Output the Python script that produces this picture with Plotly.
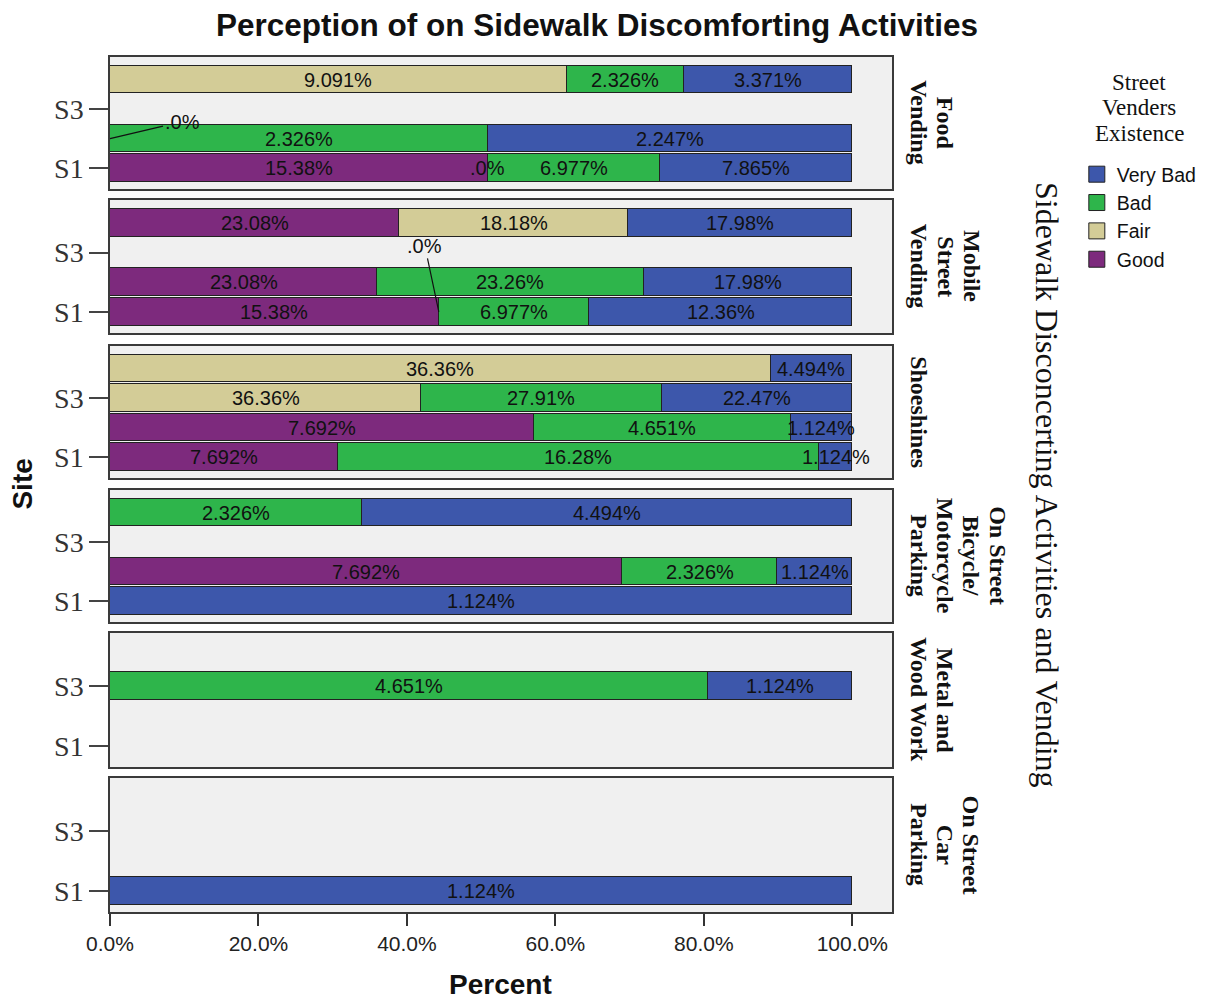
import plotly.graph_objects as go

# ---------------- data ----------------
activities = ["Food Vending", "Mobile Street Vending", "Shoeshines",
              "On Street Bicycle/Motorcycle Parking", "Metal and Wood Work",
              "On Street Car Parking"]
facet_lines = [["Food", "Vending"],
               ["Mobile", "Street", "Vending"],
               ["Shoeshines"],
               ["On Street", "Bicycle/", "Motorcycle", "Parking"],
               ["Metal and", "Wood Work"],
               ["On Street", "Car", "Parking"]]
legend_title_lines = ["Street", "Venders", "Existence"]
sites = ["S1", "S2", "S3", "S4"]
site_pos = [1, 2, 3, 4]
shown_ticks = ["S1", "S3"]
ratings = ["Good", "Fair", "Bad", "Very Bad"]
x_ticks = [0, 20, 40, 60, 80, 100]
x_ticktext = ["0.0%", "20.0%", "40.0%", "60.0%", "80.0%", "100.0%"]

# share of each bar (percent of bar length), rows = activities, cols = S1..S4
good_pct = [[50.9, 0.0, None, None],
            [44.3, 36.0, None, 39.0],
            [30.7, 57.1, None, None],
            [None, 69.0, None, None],
            [None, None, None, None],
            [None, None, None, None]]
fair_pct = [[0.0, None, None, 61.5],
            [0.0, None, None, 30.75],
            [None, None, 41.9, 89.0],
            [None, None, None, None],
            [None, None, None, None],
            [None, None, None, None]]
bad_pct = [[23.2, 50.9, None, 15.8],
           [20.2, 35.9, None, None],
           [64.8, 34.6, 32.4, None],
           [None, 20.9, None, 34.0],
           [None, None, 80.6, None],
           [None, None, None, None]]
vbad_pct = [[25.9, 49.1, None, 22.7],
            [35.5, 28.1, None, 30.25],
            [4.5, 8.3, 25.7, 11.0],
            [100.0, 10.1, None, 66.0],
            [None, None, 19.4, None],
            [100.0, None, None, None]]

# segment labels shown on the chart
good_lbl = [["15.38%", ".0%", None, None],
            ["15.38%", "23.08%", None, "23.08%"],
            ["7.692%", "7.692%", None, None],
            [None, "7.692%", None, None],
            [None, None, None, None],
            [None, None, None, None]]
fair_lbl = [[".0%", None, None, "9.091%"],
            [".0%", None, None, "18.18%"],
            [None, None, "36.36%", "36.36%"],
            [None, None, None, None],
            [None, None, None, None],
            [None, None, None, None]]
bad_lbl = [["6.977%", "2.326%", None, "2.326%"],
           ["6.977%", "23.26%", None, None],
           ["16.28%", "4.651%", "27.91%", None],
           [None, "2.326%", None, "2.326%"],
           [None, None, "4.651%", None],
           [None, None, None, None]]
vbad_lbl = [["7.865%", "2.247%", None, "3.371%"],
            ["12.36%", "17.98%", None, "17.98%"],
            ["1.124%", "1.124%", "22.47%", "4.494%"],
            ["1.124%", "1.124%", None, "4.494%"],
            [None, None, "1.124%", None],
            ["1.124%", None, None, None]]

pct = {"Good": good_pct, "Fair": fair_pct, "Bad": bad_pct, "Very Bad": vbad_pct}
lbl = {"Good": good_lbl, "Fair": fair_lbl, "Bad": bad_lbl, "Very Bad": vbad_lbl}

# ---------------- style ----------------
colors = {"Very Bad": "#3D57AB", "Bad": "#2EB54B", "Fair": "#D3CC97", "Good": "#7D2A7D"}
SANS = "Liberation Sans, Arial, sans-serif"
SERIF = "Liberation Serif, Times New Roman, serif"
# leader-line label offsets (pixels) for zero-width segments: (activity, site index, rating)
leaders = {(0, 1, "Good"): (72, -17), (1, 0, "Fair"): (-14, -66)}

OFF = 8  # page body margin
W, H = 1214, 1000
L, R, T, B = 110, 897, 57, 912
panel_px = [(57, 189), (200, 333), (346, 478), (490, 622), (633, 767), (778, 912)]


def px(xp):
    return (xp - L) / (R - L)


def py(yp):
    return (B - yp) / (B - T)


fig = go.Figure()
annotations = []
LBL_FONT = dict(family=SANS, size=20, color="#111")

for k in range(6):
    xa = "x" if k == 0 else f"x{k+1}"
    ya = "y" if k == 0 else f"y{k+1}"
    cum = [0.0] * 4
    for r in ratings:
        xs, ys = [], []
        for j in range(4):
            v = pct[r][k][j]
            if v is None:
                continue
            label = lbl[r][k][j]
            mid = cum[j] + v / 2
            if v > 0:
                xs.append(v)
                ys.append(site_pos[j])
            if label:
                if (k, j, r) in leaders:
                    ax, ay = leaders[(k, j, r)]
                    annotations.append(dict(x=mid, y=site_pos[j], xref=xa, yref=ya, text=label,
                                            showarrow=True, arrowhead=0, arrowwidth=1.2,
                                            arrowcolor="#111", ax=ax, ay=ay, standoff=0,
                                            font=LBL_FONT))
                else:
                    annotations.append(dict(x=mid, y=site_pos[j], xref=xa, yref=ya, text=label,
                                            showarrow=False, font=LBL_FONT))
            cum[j] += v
        if xs:
            fig.add_trace(go.Bar(x=xs, y=ys, orientation="h", xaxis=xa, yaxis=ya,
                                 marker=dict(color=colors[r], line=dict(color="#222", width=1.3)),
                                 width=0.93, showlegend=False, name=r, hoverinfo="skip"))

# legend entries
for r in ["Very Bad", "Bad", "Fair", "Good"]:
    fig.add_trace(go.Scatter(x=[None], y=[None], mode="markers", name=r,
                             marker=dict(symbol="square", size=17, color=colors[r],
                                         line=dict(color="#222", width=1))))

layout = dict(
    width=W - OFF, height=H - OFF,
    margin=dict(l=L - OFF, r=W - R, t=T - OFF, b=H - B),
    paper_bgcolor="white", plot_bgcolor="#F0F0F0",
    barmode="stack", bargap=0,
    showlegend=True,
    legend=dict(x=px(1083), y=py(155), xanchor="left", yanchor="top", traceorder="normal",
                bgcolor="rgba(0,0,0,0)", itemwidth=30, tracegroupgap=0,
                font=dict(family=SANS, size=19.5, color="#111")),
)

for k in range(6):
    top, bot = panel_px[k]
    xkey = "xaxis" if k == 0 else f"xaxis{k+1}"
    ykey = "yaxis" if k == 0 else f"yaxis{k+1}"
    ya = "y" if k == 0 else f"y{k+1}"
    xa = "x" if k == 0 else f"x{k+1}"
    last = (k == 5)
    layout[xkey] = dict(domain=[0, 1], anchor=ya, range=[0, 105.35], showgrid=False, zeroline=False,
                        showline=True, mirror=True, linecolor="#3a3a3a", linewidth=1.5,
                        tickvals=x_ticks, ticktext=x_ticktext,
                        ticks="outside" if last else "", ticklen=12, tickwidth=1.5, tickcolor="#333",
                        showticklabels=last,
                        tickfont=dict(family=SANS, size=21, color="#222"))
    if k > 0:
        layout[xkey]["matches"] = "x"
    layout[ykey] = dict(domain=[py(bot), py(top)], anchor=xa, range=[0.29, 4.77],
                        showgrid=False, zeroline=False,
                        showline=True, mirror=True, linecolor="#3a3a3a", linewidth=1.5,
                        tickvals=[site_pos[sites.index(s)] for s in shown_ticks],
                        ticktext=shown_ticks,
                        ticks="outside", ticklen=19, tickwidth=2, tickcolor="#444",
                        tickfont=dict(family=SERIF, size=28, color="#333"))
    # facet strip labels (one annotation per line, rotated)
    lines = facet_lines[k]
    n = len(lines)
    yc = (top + bot) / 2
    for i, line in enumerate(lines):
        xc = 924 + (n - 1 - i) * 26.5
        annotations.append(dict(x=px(xc), y=py(yc), xref="paper", yref="paper",
                                text=f"<b>{line}</b>",
                                textangle=90, showarrow=False, xanchor="center", yanchor="middle",
                                font=dict(family=SERIF, size=24, color="#111")))

# legend title (one line per annotation for tight spacing)
for i, line in enumerate(legend_title_lines):
    annotations.append(dict(x=px(1146), y=py(82 + i * 25.5), xref="paper", yref="paper",
                            text=line, showarrow=False, xanchor="center", yanchor="middle",
                            font=dict(family=SERIF, size=23, color="#111")))

# titles
annotations.append(dict(x=px(600), y=py(25), xref="paper", yref="paper",
                        text="<b>Perception of on Sidewalk Discomforting Activities</b>",
                        showarrow=False, xanchor="center", yanchor="middle",
                        font=dict(family=SANS, size=31.5, color="#111")))
annotations.append(dict(x=px(503), y=py(984), xref="paper", yref="paper", text="<b>Percent</b>",
                        showarrow=False, xanchor="center", yanchor="middle",
                        font=dict(family=SANS, size=28, color="#111")))
annotations.append(dict(x=px(22), y=py(484), xref="paper", yref="paper", text="<b>Site</b>",
                        textangle=-90, showarrow=False, xanchor="center", yanchor="middle",
                        font=dict(family=SANS, size=28, color="#111")))
annotations.append(dict(x=px(1053), y=py(485), xref="paper", yref="paper",
                        text="Sidewalk Disconcerting Activities and Vending",
                        textangle=90, showarrow=False, xanchor="center", yanchor="middle",
                        font=dict(family=SERIF, size=32, color="#111")))

layout["annotations"] = annotations
fig.update_layout(**layout)
fig.write_html("out.html")
